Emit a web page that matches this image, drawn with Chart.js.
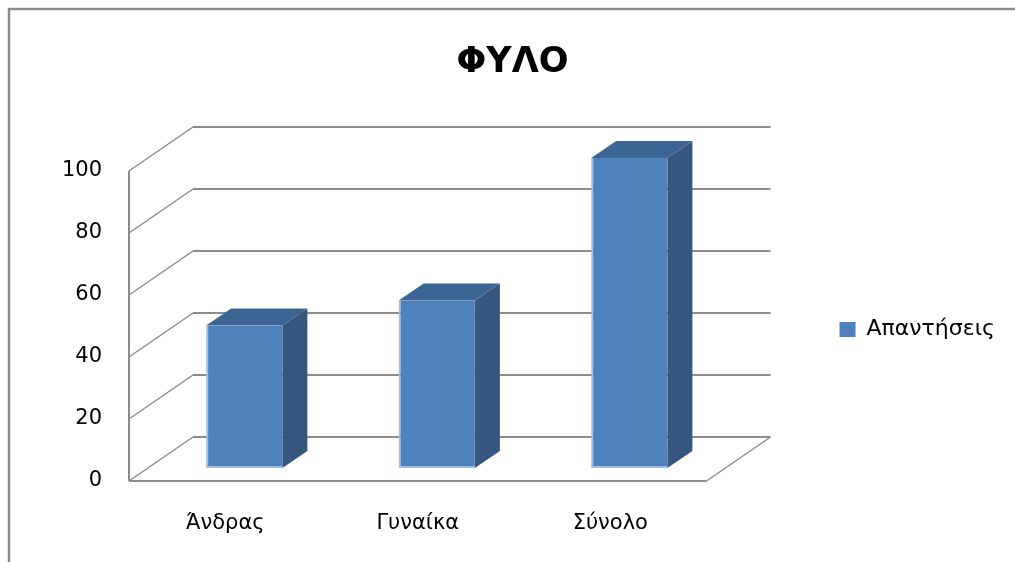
<!DOCTYPE html>
<html>
<head>
<meta charset="utf-8">
<script src="https://cdn.jsdelivr.net/npm/chart.js@4.4.1/dist/chart.umd.min.js"></script>
<style>
html,body{margin:0;padding:0;background:#fff;}
#wrap{width:1015px;height:562px;}
</style>
</head>
<body>
<div id="wrap"><canvas id="c" width="1015" height="562"></canvas></div>
<script>
const chartTitle = 'ΦΥΛΟ';
const categories = ['Άνδρας', 'Γυναίκα', 'Σύνολο'];
const seriesName = 'Απαντήσεις';
const values = [46, 54, 100];
const yTicks = [0, 20, 40, 60, 80, 100];

const FONT = '"DejaVu Sans", sans-serif';
// oblique 3D offsets relative to the plane in which the bar fronts sit
const FRONT = {dx: -19, dy: 13};
const BACK = {dx: 45, dy: -31};
const DEPTH = {dx: 25, dy: -17};

function line(ctx, x1, y1, x2, y2) {
  ctx.beginPath(); ctx.moveTo(x1, y1); ctx.lineTo(x2, y2); ctx.stroke();
}
function poly(ctx, pts, fill) {
  ctx.beginPath();
  pts.forEach((p, i) => i ? ctx.lineTo(p[0], p[1]) : ctx.moveTo(p[0], p[1]));
  ctx.closePath(); ctx.fillStyle = fill; ctx.fill();
}

const frame3d = {
  id: 'frame3d',
  beforeDraw(chart) {
    const ctx = chart.ctx;
    ctx.save();
    ctx.fillStyle = '#ffffff';
    ctx.fillRect(0, 0, chart.width, chart.height);
    ctx.strokeStyle = '#8a8a8a';
    ctx.lineWidth = 2.5;
    ctx.beginPath();
    ctx.moveTo(9, chart.height); ctx.lineTo(9, 9); ctx.lineTo(chart.width, 9);
    ctx.stroke();
    ctx.restore();
  },
  beforeDatasetsDraw(chart) {
    const {ctx, chartArea: a, scales: {y}} = chart;
    const fl = a.left + FRONT.dx, fr = a.right + FRONT.dx;
    const bl = a.left + BACK.dx, br = a.right + BACK.dx;
    ctx.save();
    ctx.strokeStyle = '#8c8c8c';
    yTicks.forEach(v => {
      const p = y.getPixelForValue(v);
      const yf = p + FRONT.dy, yb = p + BACK.dy;
      ctx.lineWidth = 2; line(ctx, bl, yb, br, yb);
      ctx.lineWidth = 1.5; line(ctx, fl, yf, bl, yb);
    });
    const p0 = y.getPixelForValue(yTicks[0]);
    const pTop = y.getPixelForValue(yTicks[yTicks.length - 1]);
    ctx.lineWidth = 2;
    line(ctx, fl, p0 + FRONT.dy, fr, p0 + FRONT.dy);
    line(ctx, fl, p0 + FRONT.dy, fl, pTop + FRONT.dy);
    ctx.lineWidth = 1.5;
    line(ctx, fr, p0 + FRONT.dy, br, p0 + BACK.dy);
    ctx.restore();
  },
  afterDatasetsDraw(chart) {
    const ctx = chart.ctx;
    ctx.save();
    chart.getDatasetMeta(0).data.forEach(bar => {
      const {x, y, base, width} = bar.getProps(['x', 'y', 'base', 'width'], true);
      const l = x - width / 2, r = x + width / 2;
      poly(ctx, [[r, y], [r + DEPTH.dx, y + DEPTH.dy], [r + DEPTH.dx, base + DEPTH.dy], [r, base]], '#34567f');
      poly(ctx, [[l, y], [l + DEPTH.dx, y + DEPTH.dy], [r + DEPTH.dx, y + DEPTH.dy], [r, y]], '#3d6594');
    });
    ctx.restore();
  }
};

new Chart(document.getElementById('c'), {
  type: 'bar',
  data: {
    labels: categories,
    datasets: [{
      label: seriesName,
      data: values,
      backgroundColor: '#4f81bd',
      borderColor: '#a3bde0',
      borderWidth: {left: 2, bottom: 2, top: 0, right: 0},
      borderSkipped: false,
      barPercentage: 0.396,
      categoryPercentage: 1
    }]
  },
  options: {
    responsive: false,
    animation: false,
    events: [],
    layout: {padding: {left: 20, right: 10, top: 0, bottom: 0}},
    plugins: {
      tooltip: {enabled: false},
      title: {
        display: true,
        text: chartTitle,
        color: '#000',
        font: {family: FONT, size: 35, weight: 'bold', lineHeight: 1.2},
        padding: {top: 42, bottom: 74}
      },
      legend: {
        position: 'right',
        fullSize: false,
        maxWidth: 281,
        title: {display: true, text: '', font: {size: 1}, padding: {top: 16, bottom: 16}},
        labels: {
          padding: 114,
          boxWidth: 16,
          boxHeight: 15,
          color: '#000',
          font: {family: FONT, size: 22},
          generateLabels: (chart) => Chart.defaults.plugins.legend.labels.generateLabels(chart)
            .map(l => Object.assign(l, {lineWidth: 0, strokeStyle: 'rgba(0,0,0,0)'}))
        }
      }
    },
    scales: {
      x: {
        grid: {display: false, drawTicks: false},
        border: {display: false},
        ticks: {
          color: '#000',
          font: {family: FONT, size: 21},
          padding: 43,
          labelOffset: FRONT.dx,
          maxRotation: 0
        },
        afterFit: (s) => { s.height = 94; }
      },
      y: {
        min: yTicks[0],
        max: yTicks[yTicks.length - 1],
        grid: {display: false, drawTicks: false},
        border: {display: false},
        ticks: {
          stepSize: yTicks[1] - yTicks[0],
          color: '#000',
          font: {family: FONT, size: 21},
          padding: 46,
          labelOffset: FRONT.dy
        },
        afterFit: (s) => { s.width = 128; }
      }
    }
  },
  plugins: [frame3d]
});
</script>
</body>
</html>
